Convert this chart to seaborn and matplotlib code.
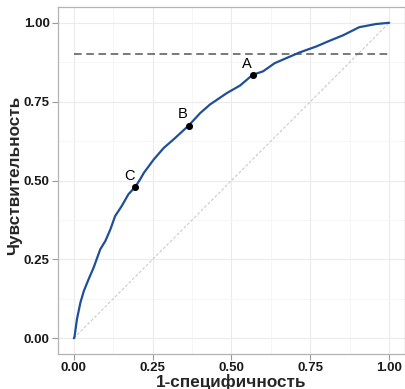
import numpy as np
import pandas as pd
import matplotlib
matplotlib.use('Agg')
import matplotlib.pyplot as plt
from matplotlib.ticker import MultipleLocator
import seaborn as sns

# ROC curve
fpr = [0.0, 0.002, 0.010, 0.021, 0.032, 0.047, 0.063, 0.084, 0.100, 0.116,
       0.131, 0.152, 0.173, 0.195, 0.210, 0.222, 0.253, 0.285, 0.316, 0.364,
       0.401, 0.432, 0.485, 0.527, 0.567, 0.600, 0.637, 0.674, 0.716, 0.769,
       0.811, 0.853, 0.905, 0.958, 1.0]
tpr = [0.0, 0.002, 0.060, 0.113, 0.150, 0.187, 0.224, 0.282, 0.308, 0.345,
       0.387, 0.419, 0.456, 0.480, 0.503, 0.524, 0.566, 0.603, 0.630, 0.674,
       0.714, 0.741, 0.777, 0.801, 0.835, 0.846, 0.872, 0.888, 0.906, 0.925,
       0.943, 0.960, 0.986, 0.996, 1.0]

pt_names = ['A', 'B', 'C']
pt_x = [0.567, 0.364, 0.195]
pt_y = [0.835, 0.674, 0.480]

hline_y = 0.9
ticks = [0.0, 0.25, 0.5, 0.75, 1.0]
tick_labels = ['0.00', '0.25', '0.50', '0.75', '1.00']

sns.set_theme(style='whitegrid')
plt.rcParams['font.family'] = ['Liberation Sans', 'DejaVu Sans']

df = pd.DataFrame({'fpr': fpr, 'tpr': tpr})
pts = pd.DataFrame({'name': pt_names, 'x': pt_x, 'y': pt_y})

fig = plt.figure(figsize=(4.06, 3.89), dpi=100)
ax = fig.add_axes([58 / 406, 35 / 389, 347 / 406, 347 / 389])

ax.plot([0, 1], [0, 1], color='#c4c4c4', lw=0.7, dashes=(3, 2), zorder=2)
ax.plot([0, 1], [hline_y, hline_y], color='#555555', lw=1.1, dashes=(5, 3), zorder=2)

sns.lineplot(x='fpr', y='tpr', data=df, sort=False, estimator=None,
             color='#1f4e9b', lw=1.6, ax=ax, zorder=3)
sns.scatterplot(x='x', y='y', data=pts, color='black', s=26,
                edgecolor='black', linewidth=0, ax=ax, zorder=4)
for _, r in pts.iterrows():
    ax.annotate(r['name'], (r['x'], r['y']), xytext=(-4, 3),
                textcoords='offset points', ha='center', va='bottom',
                fontsize=10.5, color='black')

ax.set_xlim(-0.05, 1.05)
ax.set_ylim(-0.05, 1.05)
ax.set_xticks(ticks)
ax.set_xticklabels(tick_labels)
ax.set_yticks(ticks)
ax.set_yticklabels(tick_labels)
ax.xaxis.set_minor_locator(MultipleLocator(0.125))
ax.yaxis.set_minor_locator(MultipleLocator(0.125))

ax.grid(which='major', color='#ebebeb', lw=0.8)
ax.grid(which='minor', color='#f3f3f3', lw=0.5)
ax.set_axisbelow(True)
ax.set_facecolor('white')
for s in ax.spines.values():
    s.set_visible(True)
    s.set_color('#b3b3b3')
    s.set_linewidth(0.9)

ax.tick_params(which='major', length=4, width=0.8, color='#9a9a9a',
               labelsize=9.5, labelcolor='#1a1a1a', pad=2, bottom=True, left=True)
ax.tick_params(which='minor', length=0)
for lab in ax.get_xticklabels() + ax.get_yticklabels():
    lab.set_fontweight('bold')

ax.set_xlabel('1-специфичность', fontsize=12.3, fontweight='bold', labelpad=-0.5)
ax.set_ylabel('Чувствительность', fontsize=12.3, fontweight='bold')
ax.yaxis.set_label_coords(-0.103, 0.515)

fig.savefig('out.png', dpi=100)
